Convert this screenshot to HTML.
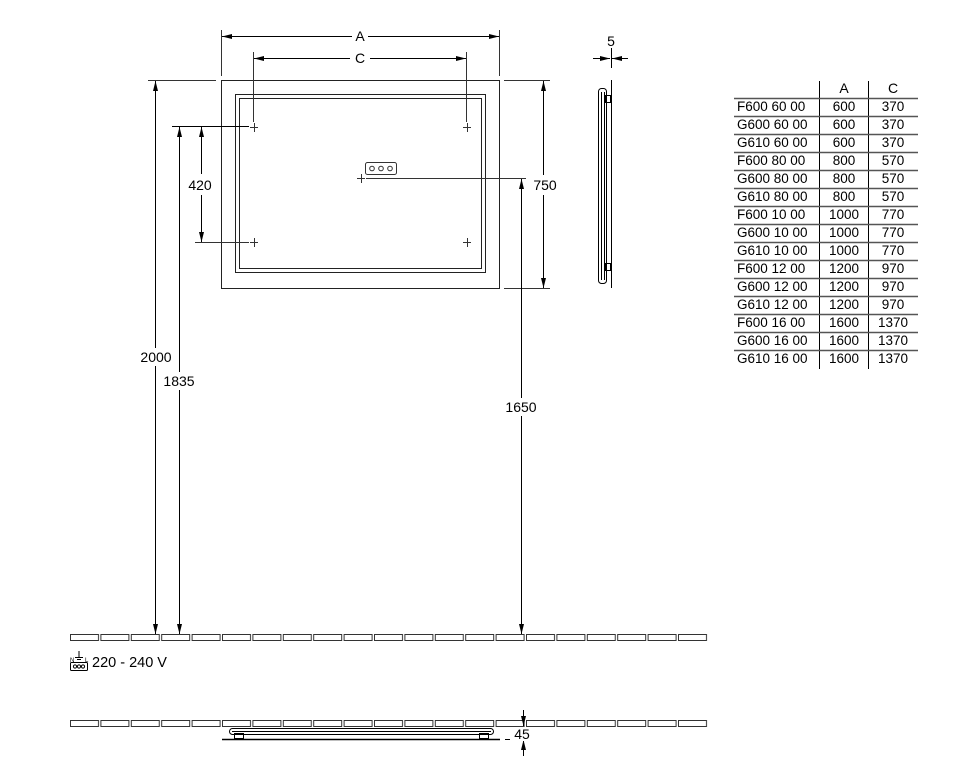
<!DOCTYPE html>
<html><head><meta charset="utf-8"><style>
html,body{margin:0;padding:0;background:#fff;}
svg{display:block;font-family:"Liberation Sans",Arial,sans-serif;}
</style></head><body>
<svg width="973" height="762" viewBox="0 0 973 762" xmlns="http://www.w3.org/2000/svg">
<defs>
<marker id="ar" viewBox="0 0 10 6" refX="10" refY="3" markerWidth="10" markerHeight="6" orient="auto-start-reverse" markerUnits="userSpaceOnUse"><path d="M0,0.5 L10,3 L0,5.5 z" fill="#000"/></marker>
<pattern id="tiles" x="70" y="0" width="30.4" height="762" patternUnits="userSpaceOnUse">
<path d="M0.5,634.5 H28.5 V640.5 H0.5 Z" fill="none" stroke="#333" stroke-width="1"/>
<path d="M0.5,720.5 H28.5 V726.5 H0.5 Z" fill="none" stroke="#333" stroke-width="1"/>
</pattern>
</defs>
<g fill="none" stroke="#333" stroke-width="1">
<rect x="70" y="630" width="638" height="14" fill="url(#tiles)" stroke="none"/>
<rect x="70" y="716" width="638" height="14" fill="url(#tiles)" stroke="none"/>
<rect x="221.5" y="80.5" width="278" height="208" stroke="#222"/>
<rect x="235.5" y="94.5" width="250" height="178" stroke="#222"/>
<rect x="239.5" y="98.5" width="242" height="170" stroke="#222"/>
<line x1="221.5" y1="30" x2="221.5" y2="76"/>
<line x1="499.5" y1="30" x2="499.5" y2="76"/>
<line x1="253.5" y1="52" x2="253.5" y2="122"/>
<line x1="466.5" y1="52" x2="466.5" y2="122"/>
<line x1="148" y1="80.5" x2="216" y2="80.5"/>
<line x1="504" y1="80.5" x2="550" y2="80.5"/>
<line x1="504" y1="288.5" x2="550" y2="288.5"/>
<line x1="172" y1="126.5" x2="249" y2="126.5" stroke="#000"/>
<line x1="195" y1="242.5" x2="249" y2="242.5"/>
<line x1="366" y1="178.5" x2="526" y2="178.5"/>
<path d="M250,127.5h8M254.5,123v9 M463,127.5h8M467.5,123v9 M250,242.5h8M254.5,238v9 M463,242.5h8M467.5,238v9 M357,178.5h8M361.5,174v9"/>
<rect x="365.5" y="162.5" width="31" height="12" rx="2"/>
<circle cx="372" cy="168.5" r="2.3"/><circle cx="381" cy="168.5" r="2.3"/><circle cx="390" cy="168.5" r="2.3"/>
</g>
<g stroke="#000" stroke-width="1" fill="none">
<line x1="222" y1="36.5" x2="352" y2="36.5" marker-start="url(#ar)"/>
<line x1="368" y1="36.5" x2="499" y2="36.5" marker-end="url(#ar)"/>
<line x1="254" y1="58.5" x2="350" y2="58.5" marker-start="url(#ar)"/>
<line x1="370" y1="58.5" x2="466" y2="58.5" marker-end="url(#ar)"/>
<line x1="543.5" y1="81" x2="543.5" y2="175" marker-start="url(#ar)"/>
<line x1="543.5" y1="195" x2="543.5" y2="288" marker-end="url(#ar)"/>
<line x1="201.5" y1="127" x2="201.5" y2="174" marker-start="url(#ar)"/>
<line x1="201.5" y1="195" x2="201.5" y2="242" marker-end="url(#ar)"/>
<line x1="155.5" y1="81" x2="155.5" y2="634" marker-start="url(#ar)" marker-end="url(#ar)"/>
<line x1="179.5" y1="127" x2="179.5" y2="634" marker-start="url(#ar)" marker-end="url(#ar)"/>
<line x1="521.5" y1="179" x2="521.5" y2="634" marker-start="url(#ar)" marker-end="url(#ar)"/>
<line x1="611.5" y1="48" x2="611.5" y2="68"/>
<line x1="593" y1="58.5" x2="610" y2="58.5" marker-end="url(#ar)"/>
<line x1="628" y1="58.5" x2="612" y2="58.5" marker-end="url(#ar)"/>
<line x1="611.5" y1="80" x2="611.5" y2="288"/>
<rect x="598.5" y="88.5" width="8" height="195" rx="3"/>
<line x1="601.5" y1="92" x2="601.5" y2="280"/>
<line x1="604.5" y1="92" x2="604.5" y2="280"/>
<rect x="605.5" y="95.5" width="5" height="7"/>
<rect x="605.5" y="263.5" width="5" height="7"/>
<rect x="229.5" y="728.5" width="264" height="6" rx="3"/>
<line x1="232" y1="731.5" x2="491" y2="731.5"/>
<line x1="222" y1="739.5" x2="500" y2="739.5" stroke-width="1.5"/>
<rect x="234.5" y="733.5" width="9" height="5"/>
<rect x="479.5" y="733.5" width="9" height="5"/>
<line x1="505" y1="739.5" x2="530" y2="739.5"/>
<line x1="523.5" y1="710" x2="523.5" y2="726" marker-end="url(#ar)"/>
<line x1="523.5" y1="756" x2="523.5" y2="740" marker-end="url(#ar)"/>
<line x1="819.5" y1="81" x2="819.5" y2="369"/>
<line x1="868.5" y1="81" x2="868.5" y2="369"/>
</g>
<g stroke="#555" stroke-width="1.5">
<line x1="734" y1="98.5" x2="918" y2="98.5"/>
<line x1="734" y1="116.5" x2="918" y2="116.5"/>
<line x1="734" y1="134.5" x2="918" y2="134.5"/>
<line x1="734" y1="152.5" x2="918" y2="152.5"/>
<line x1="734" y1="170.5" x2="918" y2="170.5"/>
<line x1="734" y1="188.5" x2="918" y2="188.5"/>
<line x1="734" y1="206.5" x2="918" y2="206.5"/>
<line x1="734" y1="224.5" x2="918" y2="224.5"/>
<line x1="734" y1="242.5" x2="918" y2="242.5"/>
<line x1="734" y1="260.5" x2="918" y2="260.5"/>
<line x1="734" y1="278.5" x2="918" y2="278.5"/>
<line x1="734" y1="296.5" x2="918" y2="296.5"/>
<line x1="734" y1="314.5" x2="918" y2="314.5"/>
<line x1="734" y1="332.5" x2="918" y2="332.5"/>
<line x1="734" y1="350.5" x2="918" y2="350.5"/>
</g>
<!-- label backgrounds -->
<g fill="#fff">
<rect x="139" y="348" width="34" height="18"/>
<rect x="162" y="372" width="34" height="18"/>
<rect x="504" y="398" width="34" height="18"/>
<rect x="532" y="177" width="26" height="16"/>
<rect x="510" y="727" width="24" height="14"/>
</g>
<g font-size="14" fill="#000" text-anchor="middle">
<text x="360" y="41">A</text>
<text x="360" y="63">C</text>
<text x="545" y="190">750</text>
<text x="200" y="190">420</text>
<text x="156" y="362">2000</text>
<text x="179" y="386">1835</text>
<text x="521" y="412">1650</text>
<text x="611" y="46">5</text>
<text x="522" y="739">45</text>
<text x="844" y="93">A</text>
<text x="893" y="93">C</text>
</g>
<g font-size="13.5" fill="#000">
<text x="737" y="111">F600 60 00</text><text x="737" y="129">G600 60 00</text><text x="737" y="147">G610 60 00</text>
<text x="737" y="165">F600 80 00</text><text x="737" y="183">G600 80 00</text><text x="737" y="201">G610 80 00</text>
<text x="737" y="219">F600 10 00</text><text x="737" y="237">G600 10 00</text><text x="737" y="255">G610 10 00</text>
<text x="737" y="273">F600 12 00</text><text x="737" y="291">G600 12 00</text><text x="737" y="309">G610 12 00</text>
<text x="737" y="327">F600 16 00</text><text x="737" y="345">G600 16 00</text><text x="737" y="363">G610 16 00</text>
</g>
<g font-size="13.5" fill="#000" text-anchor="middle">
<text x="844" y="111">600</text><text x="844" y="129">600</text><text x="844" y="147">600</text>
<text x="844" y="165">800</text><text x="844" y="183">800</text><text x="844" y="201">800</text>
<text x="844" y="219">1000</text><text x="844" y="237">1000</text><text x="844" y="255">1000</text>
<text x="844" y="273">1200</text><text x="844" y="291">1200</text><text x="844" y="309">1200</text>
<text x="844" y="327">1600</text><text x="844" y="345">1600</text><text x="844" y="363">1600</text>
<text x="893" y="111">370</text><text x="893" y="129">370</text><text x="893" y="147">370</text>
<text x="893" y="165">570</text><text x="893" y="183">570</text><text x="893" y="201">570</text>
<text x="893" y="219">770</text><text x="893" y="237">770</text><text x="893" y="255">770</text>
<text x="893" y="273">970</text><text x="893" y="291">970</text><text x="893" y="309">970</text>
<text x="893" y="327">1370</text><text x="893" y="345">1370</text><text x="893" y="363">1370</text>
</g>
<g stroke="#000" stroke-width="1" fill="none">
<rect x="70.5" y="662.5" width="17" height="8" rx="1"/>
<circle cx="75" cy="666.5" r="1.6"/><circle cx="79" cy="666.5" r="1.6"/><circle cx="83" cy="666.5" r="1.6"/>
<line x1="79" y1="651" x2="79" y2="657"/><line x1="75" y1="657.5" x2="83" y2="657.5"/><line x1="77" y1="659.5" x2="81" y2="659.5"/>
</g>
<text x="70" y="662" font-size="6" fill="#000">N</text>
<text x="85" y="662" font-size="6" fill="#000">L</text>
<text x="92" y="667" font-size="14.5" fill="#000">220 - 240 V</text>
</svg>
</body></html>
